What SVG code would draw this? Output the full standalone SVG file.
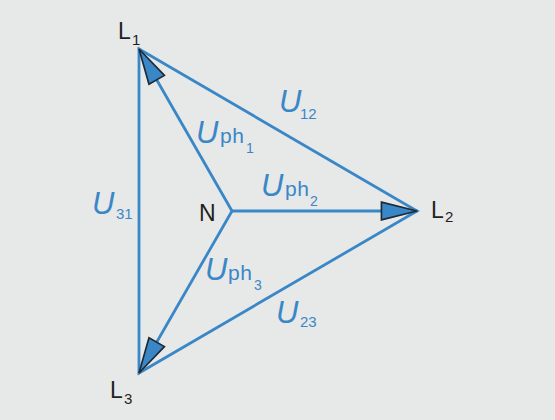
<svg xmlns="http://www.w3.org/2000/svg" width="555" height="420" viewBox="0 0 555 420">
<style>
.bg{fill:#e7e8e8}
.ln{stroke:#3a87c8;stroke-width:2.8;fill:none;stroke-linecap:round}
.nd{font-family:"Liberation Sans",Arial,sans-serif;fill:#231f20}
.lb{font-family:"Liberation Sans",Arial,sans-serif;fill:#3a87c8}
.U{font-style:italic;font-size:31px}
.ph{font-size:21px;letter-spacing:0.5px}
.sb{font-size:14px}
.sb2{font-size:15px}
.ls{font-size:15px}
.big{font-size:23px}
</style>
<defs>
<marker id="ah" markerUnits="userSpaceOnUse" markerWidth="40" markerHeight="24" viewBox="-2 -2 36 20" refX="32" refY="8" orient="auto">
<path d="M0,0 L32,8 L0,16 Z" fill="#3a87c8" stroke="#1e2a35" stroke-width="1.5" stroke-linejoin="miter"/>
</marker>
</defs>
<rect class="bg" x="0" y="0" width="555" height="420"/>
<g id="connectors">
<polygon class="ln" points="139,49 417,211 139,373" stroke-linejoin="miter"/>
<line class="ln" x1="232" y1="211" x2="139" y2="49" marker-end="url(#ah)"/>
<line class="ln" x1="232" y1="211" x2="417" y2="211" marker-end="url(#ah)"/>
<line class="ln" x1="232" y1="211" x2="139" y2="373" marker-end="url(#ah)"/>
<g class="lb">
<text class="U" x="196" y="143">U</text><text class="ph" x="220" y="143">ph</text><text class="sb" x="246" y="153">1</text>
<text class="U" x="261" y="196">U</text><text class="ph" x="285" y="196">ph</text><text class="sb" x="310" y="206">2</text>
<text class="U" x="205" y="280">U</text><text class="ph" x="228" y="280">ph</text><text class="sb" x="254" y="290">3</text>
<text class="U" x="279" y="112">U</text><text class="sb2" x="300" y="119">12</text>
<text class="U" x="92" y="214">U</text><text class="sb2" x="116" y="219">31</text>
<text class="U" x="276" y="323">U</text><text class="sb2" x="300" y="327">23</text>
</g>
</g>
<g id="L1" class="nd"><text class="big" x="118" y="39">L</text><text class="ls" x="132" y="45">1</text></g>
<g id="L2" class="nd"><text class="big" x="431" y="218">L</text><text class="ls" x="445" y="222">2</text></g>
<g id="L3" class="nd"><text class="big" x="110" y="398">L</text><text class="ls" x="124" y="404">3</text></g>
<g id="N" class="nd"><text class="big" x="199" y="221">N</text></g>
</svg>
